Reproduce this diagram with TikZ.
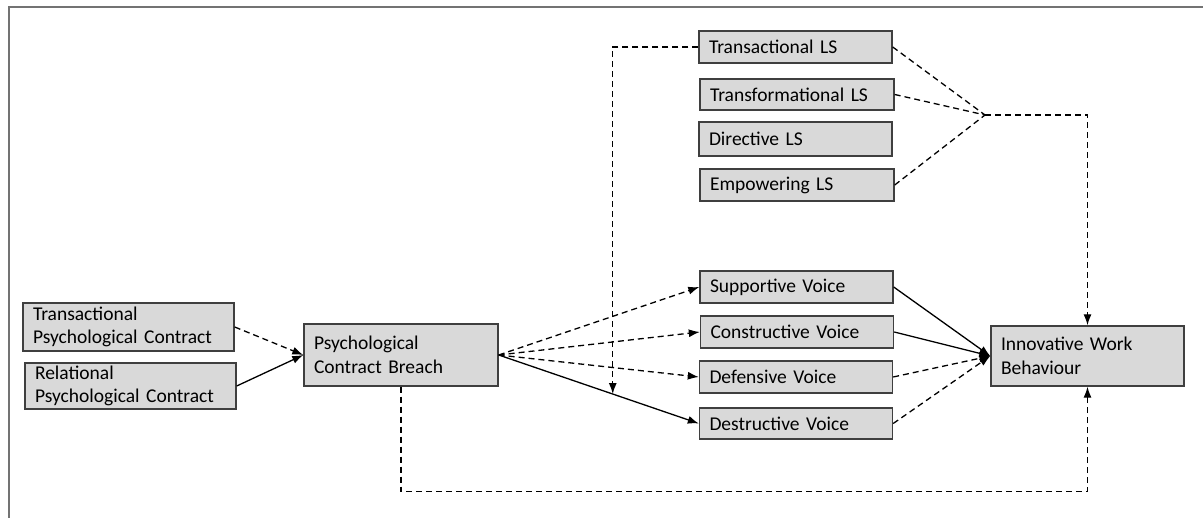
\documentclass[tikz,border=0pt]{standalone}
\usepackage{fontspec}
\setmainfont{Carlito}
\usepackage{tikz}
\usetikzlibrary{calc,arrows.meta}

\definecolor{boxfill}{HTML}{D9D9D9}
\definecolor{boxline}{HTML}{3F3F3F}
\definecolor{framegray}{HTML}{737373}

\tikzset{
	box/.style={draw=boxline, fill=boxfill, line width=1.4pt, inner xsep=10pt, inner ysep=0pt,
		align=left, text width=173pt, font=\fontsize{19.5}{23.5}\selectfont},
	wide/.style={box, text width=191pt},
	link/.style={line width=1.3pt, -{Latex[length=11pt,width=8pt]}},
	dashlink/.style={link, dash pattern=on 6pt off 4pt},
	plain/.style={line width=1.3pt, dash pattern=on 6pt off 4pt}
}

\begin{document}
\begin{tikzpicture}[x=1pt,y=-1pt]
		\useasboundingbox (0,0) rectangle (1203,518);
		\draw[framegray, line width=2pt] (9,518) -- (9,7) -- (1203,7);

		% antecedents
		\node[wide, minimum height=48pt] (tpc) at (128.5,327) {Transactional\\Psychological Contract};
		\node[wide, minimum height=46pt] (rpc) at (130.5,386) {Relational\\Psychological Contract};
		\node[box, text width=174pt, minimum height=62pt] (pcb) at (401,355) {Psychological\\Contract Breach};

		% voice
		\node[box, minimum height=32pt] (sv) at (796.5,287) {Supportive Voice};
		\node[box, minimum height=32pt] (cv) at (797,332) {Constructive Voice};
		\node[box, minimum height=32pt] (dfv) at (796,377) {Defensive Voice};
		\node[box, minimum height=31pt] (dsv) at (796,423.5) {Destructive Voice};

		% leadership styles
		\node[box, minimum height=32pt] (tals) at (795.5,47) {Transactional LS};
		\node[box, text width=174pt, minimum height=31pt] (tfls) at (797,94.5) {Transformational LS};
		\node[box, minimum height=34pt] (dls) at (795.5,139) {Directive LS};
		\node[box, text width=174pt, minimum height=32pt] (els) at (797,185) {Empowering LS};

		\node[box, minimum height=60pt] (iwb) at (1087.5,356) {Innovative Work\\Behaviour};

		\draw[dashlink] (tpc.east) -- (pcb.west);
		\draw[link] (rpc.east) -- (pcb.west);

		\draw[dashlink] (pcb.east) -- (sv.west);
		\draw[dashlink] (pcb.east) -- (cv.west);
		\draw[dashlink] (pcb.east) -- (dfv.west);
		\draw[link] (pcb.east) -- (dsv.west);

		\draw[link] (sv.east) -- (iwb.west);
		\draw[link] (cv.east) -- (iwb.west);
		\draw[dashlink] (dfv.east) -- (iwb.west);
		\draw[dashlink] (dsv.east) -- (iwb.west);

		% moderation
		\coordinate (mod) at ($(pcb.east)!0.57!(dsv.west)$);
		\draw[dashlink] (tals.west) -| (mod);

		\coordinate (jn) at (985,115);
		\draw[plain] (tals.east) -- (jn);
		\draw[plain] (tfls.east) -- (jn);
		\draw[plain] (els.east) -- (jn);
		\draw[dashlink] (jn) -- (jn -| iwb.north) -- (iwb.north);

		\draw[dashlink] (pcb.south) -- ++(0,105) -| (iwb.south);
	\end{tikzpicture}
\end{document}
